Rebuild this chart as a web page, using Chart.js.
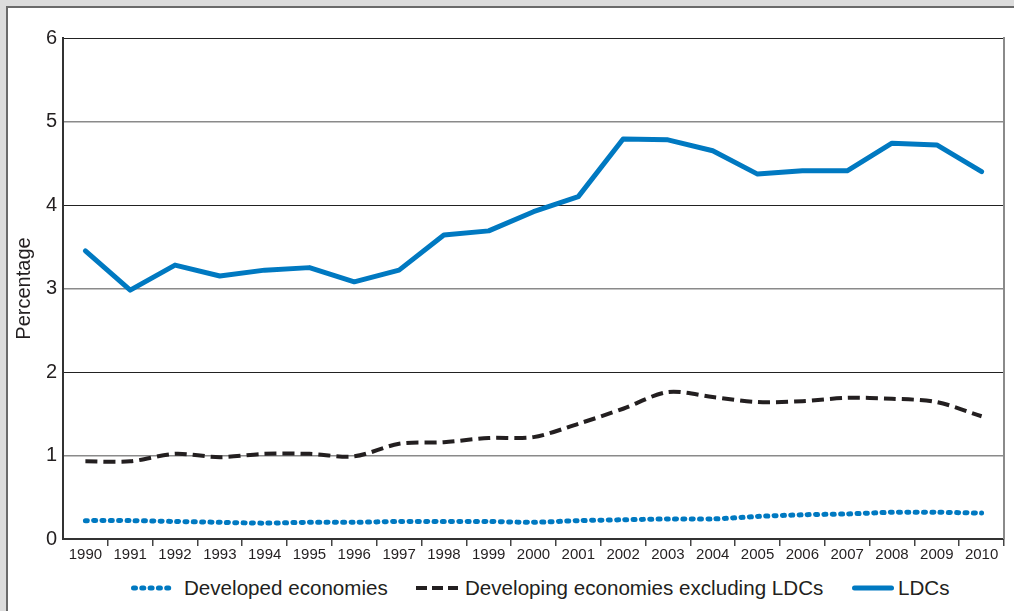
<!DOCTYPE html>
<html>
<head>
<meta charset="utf-8">
<script src="https://cdn.jsdelivr.net/npm/chart.js@4.4.1/dist/chart.umd.min.js"></script>
<style>
  html, body { margin: 0; padding: 0; background: #dcdcdc; width: 1014px; height: 611px; overflow: hidden; font-family: "Liberation Sans", Arial, sans-serif; }
  #panel { position: absolute; left: 6px; top: 6px; width: 1100px; height: 700px; background: #fff; border-top: 2px solid #6a6a6a; border-left: 2px solid #6a6a6a; }
  #wrap { position: absolute; left: 8px; top: 8px; width: 1006px; height: 560px; }
  .leg { position: absolute; top: 576px; height: 24px; font-size: 20.6px; color: #231f20; line-height: 24px; white-space: nowrap; }
  .sample { position: absolute; top: 576px; height: 24px; }
</style>
</head>
<body>
<div id="panel"></div>
<div id="wrap"><canvas id="c" width="1006" height="560"></canvas></div>
<div id="legend"></div>
<script>
const years = ["1990","1991","1992","1993","1994","1995","1996","1997","1998","1999","2000","2001","2002","2003","2004","2005","2006","2007","2008","2009","2010"];
const developed = [0.22,0.22,0.21,0.20,0.19,0.20,0.20,0.21,0.21,0.21,0.20,0.22,0.23,0.24,0.24,0.27,0.29,0.30,0.32,0.32,0.31];
const developingExLDC = [0.93,0.93,1.02,0.98,1.02,1.02,0.99,1.14,1.16,1.21,1.22,1.38,1.56,1.76,1.70,1.64,1.65,1.69,1.68,1.64,1.47];
const ldcs = [3.45,2.98,3.28,3.15,3.22,3.25,3.08,3.22,3.64,3.69,3.92,4.10,4.79,4.78,4.65,4.37,4.41,4.41,4.74,4.72,4.40];
const seriesNames = ["Developed economies","Developing economies excluding LDCs","LDCs"];
const yTicks = [0,1,2,3,4,5,6];

const BLUE = "#0079c1";
const DARK = "#231f20";

const rightBorder = {
  id: "rightBorder",
  afterDraw(chart) {
    const a = chart.chartArea, ctx = chart.ctx;
    ctx.save();
    ctx.strokeStyle = "#8a8a8a";
    ctx.lineWidth = 2;
    ctx.beginPath();
    ctx.moveTo(a.right, a.top - 1);
    ctx.lineTo(a.right, a.bottom);
    ctx.stroke();
    ctx.restore();
  }
};

new Chart(document.getElementById("c"), {
  type: "line",
  data: {
    labels: years,
    datasets: [
      { label: seriesNames[0], data: developed, borderColor: BLUE, borderWidth: 5, borderDash: [2, 6.3], borderCapStyle: "round", tension: 0.3, pointRadius: 0, fill: false },
      { label: seriesNames[1], data: developingExLDC, borderColor: DARK, borderWidth: 4, borderDash: [12, 6], tension: 0.3, pointRadius: 0, fill: false },
      { label: seriesNames[2], data: ldcs, borderColor: BLUE, borderWidth: 5, borderJoinStyle: "round", borderCapStyle: "round", tension: 0, pointRadius: 0, fill: false }
    ]
  },
  options: {
    responsive: false,
    animation: false,
    devicePixelRatio: 1,
    layout: { padding: { left: 0, top: 30, right: 10, bottom: 0 } },
    plugins: { legend: { display: false }, tooltip: { enabled: false } },
    scales: {
      x: {
        type: "category",
        offset: true,
        afterFit(s) { s.height = 29; },
        grid: {
          offset: true,
          drawOnChartArea: false,
          drawTicks: true,
          tickLength: 7,
          color: (ctx) => (ctx.index === 0 || ctx.index >= years.length) ? "rgba(0,0,0,0)" : "#444",
          lineWidth: 1.5
        },
        border: { display: true, color: "#333", width: 2 },
        ticks: { color: DARK, font: { family: "'Liberation Sans', Arial, sans-serif", size: 15 }, padding: 0, maxRotation: 0, autoSkip: false }
      },
      y: {
        min: 0, max: 6,
        afterFit(s) { s.width = 55; },
        afterBuildTicks(s) { s.ticks = yTicks.map(v => ({ value: v })); },
        grid: {
          drawTicks: false,
          color: (ctx) => (ctx.tick && ctx.tick.value % 2 === 0) ? "#222" : "#8a8a8a",
          lineWidth: (ctx) => (ctx.tick && ctx.tick.value % 2 === 0) ? 1 : 1.5
        },
        border: { display: true, color: "#333", width: 2 },
        ticks: { color: DARK, font: { family: "'Liberation Sans', Arial, sans-serif", size: 20 }, padding: 6 },
        title: { display: true, text: "Percentage", color: DARK, font: { family: "'Liberation Sans', Arial, sans-serif", size: 20 }, padding: { top: 4, bottom: 4 } }
      }
    }
  },
  plugins: [rightBorder]
});

// HTML legend
const legendDef = [
  { name: seriesNames[0], sx: 129, sw: 48, tx: 184, dash: "2 6.3", cap: "round", w: 5, color: BLUE },
  { name: seriesNames[1], sx: 414, sw: 44, tx: 465, dash: "11 5", cap: "butt", w: 4, color: DARK },
  { name: seriesNames[2], sx: 850, sw: 44, tx: 898, dash: "", cap: "round", w: 5, color: BLUE }
];
const leg = document.getElementById("legend");
legendDef.forEach(d => {
  const svg = document.createElementNS("http://www.w3.org/2000/svg", "svg");
  svg.setAttribute("class", "sample");
  svg.setAttribute("width", d.sw);
  svg.setAttribute("height", 24);
  svg.style.left = d.sx + "px";
  const ln = document.createElementNS("http://www.w3.org/2000/svg", "line");
  const inset = d.cap === "round" ? d.w / 2 : 0;
  ln.setAttribute("x1", 2 + inset); ln.setAttribute("x2", d.sw - inset);
  ln.setAttribute("y1", 12); ln.setAttribute("y2", 12);
  ln.setAttribute("stroke", d.color);
  ln.setAttribute("stroke-width", d.w);
  ln.setAttribute("stroke-linecap", d.cap);
  if (d.dash) ln.setAttribute("stroke-dasharray", d.dash);
  svg.appendChild(ln);
  leg.appendChild(svg);
  const t = document.createElement("div");
  t.className = "leg";
  t.style.left = d.tx + "px";
  t.textContent = d.name;
  leg.appendChild(t);
});
</script>
</body>
</html>
